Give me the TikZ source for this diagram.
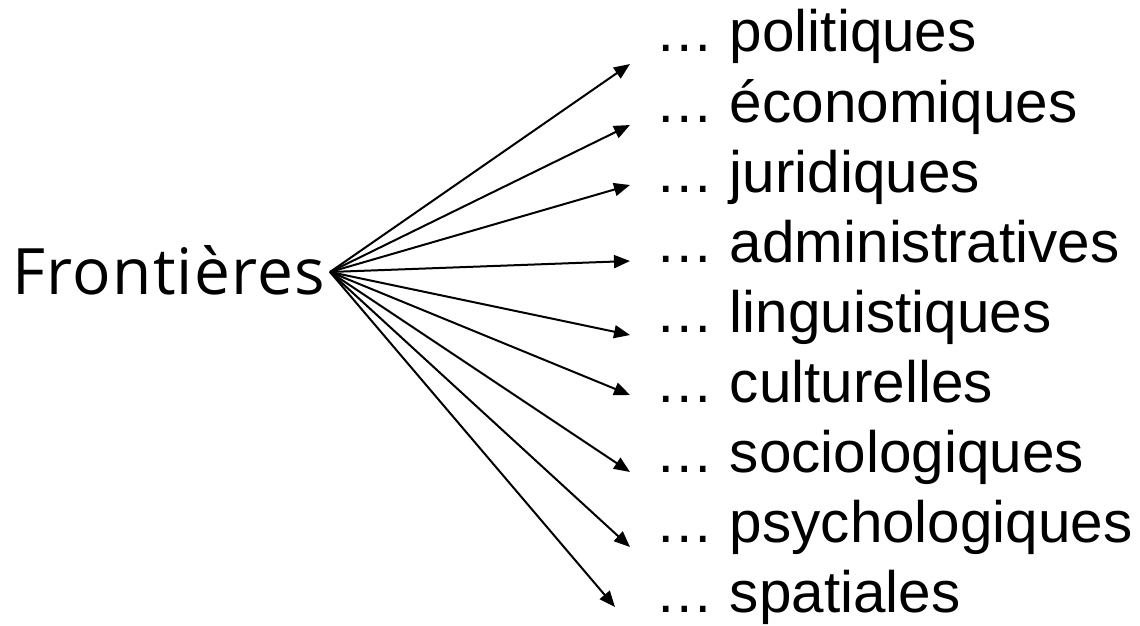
\documentclass[tikz,border=0pt]{standalone}
\usepackage{fontspec}
\setmainfont{Liberation Sans}
\newfontfamily\frontfont[LetterSpace=1.9]{Open Sans}
\usetikzlibrary{arrows.meta,positioning}
\tikzset{
  item/.style={anchor=base west,inner sep=0pt,font=\fontsize{29.2pt}{35pt}\selectfont},
  title/.style={anchor=base west,inner sep=0pt,font=\frontfont\fontsize{32pt}{38pt}\selectfont},
  arrow/.style={line width=1pt,-{Triangle[length=8pt,width=6.5pt]}}
}

\begin{document}
\begin{tikzpicture}[x=0.5pt,y=-0.5pt]
  \useasboundingbox (0,0) rectangle (1140,626);
  % left label
  \node[title] (front) at (12,294) {Frontières};
  \coordinate (src) at (330,272);
  % the nine kinds
  \foreach \w [count=\i] in {politiques,économiques,juridiques,administratives,
      linguistiques,culturelles,sociologiques,psychologiques,spatiales}{
    \node[item] (t\i) at (655,{52+70.1*(\i-1)}) {…\ \w};
  }
  % arrow tips
  \coordinate (a1) at (630,64);
  \coordinate (a2) at (630,125);
  \coordinate (a3) at (630,185);
  \coordinate (a4) at (630,261);
  \coordinate (a5) at (630,335);
  \coordinate (a6) at (630,395);
  \coordinate (a7) at (630,472);
  \coordinate (a8) at (630,547);
  \coordinate (a9) at (615,607);
  \foreach \i in {1,...,9}{
    \draw[arrow] (src) -- (a\i);
  }
\end{tikzpicture}
\end{document}
